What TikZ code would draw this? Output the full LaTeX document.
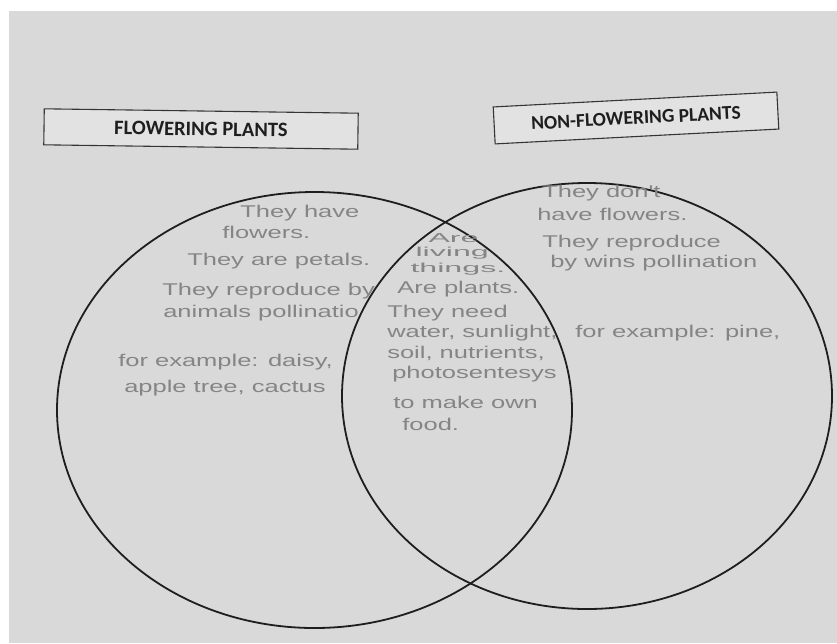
\documentclass[tikz,border=0pt]{standalone}
\usepackage{fontspec}
\newfontfamily\hwfont{Liberation Sans}
\newfontfamily\lblfont{Carlito}
\usetikzlibrary{shapes.geometric}
\definecolor{paper}{HTML}{D9D9D9}
\definecolor{ink}{HTML}{1E1E1E}
\definecolor{pencil}{HTML}{858585}
\begin{document}
\begin{tikzpicture}[x=1pt,y=-1pt,
  hw/.style={font=\hwfont\fontsize{17}{20}\selectfont, text=pencil, xscale=1.5, anchor=base west, inner sep=0pt},
  hwsmall/.style={hw, font=\hwfont\fontsize{13}{15}\selectfont, xscale=1.65},
  venn/.style={ellipse, draw=ink, line width=1.8pt, inner sep=0pt},
  labelbox/.style={draw=ink!90, line width=1.1pt, fill=paper!75!white, text=ink, inner sep=0pt}]
\useasboundingbox (0,0) rectangle (837,643);
\fill[white] (0,0) rectangle (837,643);
\fill[paper] (9,11) rectangle (837,643);

% header boxes
\node[labelbox, font=\lblfont\bfseries\fontsize{20.5}{24}\selectfont, minimum width=314pt, minimum height=36pt, rotate=-0.8] (fbox) at (201,129) {FLOWERING PLANTS};
\node[labelbox, font=\lblfont\bfseries\fontsize{19.5}{24}\selectfont, minimum width=284pt, minimum height=37pt, rotate=3] (nbox) at (636,118) {NON-FLOWERING PLANTS};

% circles
\node[venn, minimum width=515pt, minimum height=436pt] (left) at (314.5,410) {};
\node[venn, minimum width=490pt, minimum height=426pt] (right) at (587,396) {};

% left circle text
\node[hw] (l1) at (240,217) {They have};
\node[hw] (l2) at (222,238) {flowers.};
\node[hw] (l3) at (187,265) {They are petals.};
\node[hw] (l4) at (162,295) {They reproduce by};
\node[hw] (l5) at (163,317) {animals pollinatio};
\node[hw] (l6) at (118,366) {for example: daisy,};
\node[hw] (l7) at (124,392) {apple tree, cactus};

% middle text
\node[hwsmall] (m1) at (428,242) {Are};
\node[hwsmall] (m2) at (415,256) {living};
\node[hwsmall] (m3) at (410,272) {things.};
\node[hw] (m4) at (397,293) {Are plants.};
\node[hw] (m5) at (387,317) {They need};
\node[hw] (m6) at (387,337) {water, sunlight,};
\node[hw] (m7) at (387,358) {soil, nutrients,};
\node[hw] (m8) at (392,378) {photosentesys};
\node[hw] (m9) at (393,408) {to make own};
\node[hw] (m10) at (402,430) {food.};

% right circle text
\node[hw] (r1) at (542,197) {They don't};
\node[hw] (r2) at (537,220) {have flowers.};
\node[hw] (r3) at (542,247) {They reproduce};
\node[hw] (r4) at (550,267) {by wins pollination};
\node[hw] (r5) at (575,337) {for example: pine,};
\end{tikzpicture}
\end{document}
